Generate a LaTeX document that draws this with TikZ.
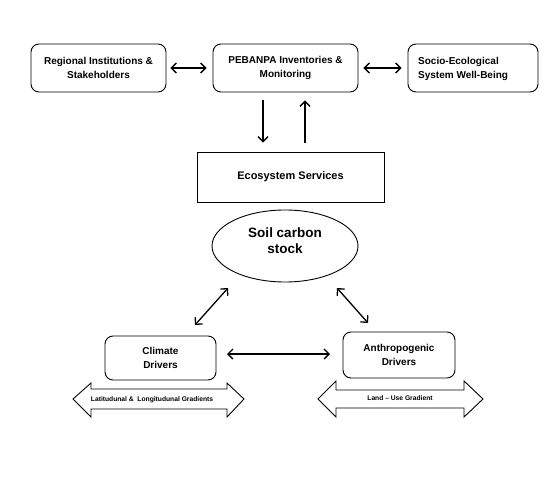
\documentclass[tikz,border=0pt]{standalone}
\usepackage{fontspec}
\setmainfont{Liberation Sans}
\usetikzlibrary{arrows.meta,shapes.geometric}
\begin{document}
\begin{tikzpicture}[x=1pt,y=-1pt,
  rbox/.style={draw,line width=0.9pt,rounded corners=8pt,align=center,font=\fontsize{10}{14}\selectfont\bfseries,inner sep=0pt},
  sbox/.style={draw,line width=0.9pt,align=center,inner sep=0pt},
  conn/.style={line width=1.3pt,{Straight Barb[length=5pt,width=10pt]}-{Straight Barb[length=5pt,width=10pt]}},
  oneway/.style={line width=1.3pt,-{Straight Barb[length=5pt,width=10pt]}},
  fat/.style={draw,line width=0.9pt,line join=miter},
  tiny/.style={font=\fontsize{6.7}{7}\selectfont\bfseries,inner sep=0pt}
]
\useasboundingbox (0,0) rectangle (550,479);
% top row
\node[rbox,minimum width=135pt,minimum height=48pt] (reg) at (98.5,68) {Regional Institutions \&\\Stakeholders};
\node[rbox,minimum width=145pt,minimum height=48pt] (peb) at (285.5,68) {PEBANPA Inventories \&\\Monitoring};
\node[rbox,minimum width=130pt,minimum height=48pt] (soc) at (473,68) {};
\node[font=\fontsize{10}{14}\selectfont\bfseries,align=left,anchor=west,inner sep=0pt] (soctxt) at (418,69) {Socio-Ecological\\System Well-Being};
\draw[conn,shorten <=4pt,shorten >=6pt] (reg.east) -- (peb.west);
\draw[conn,shorten <=5pt,shorten >=6pt] (peb.east) -- (soc.west);
% ecosystem services
\node[sbox,minimum width=187pt,minimum height=50pt,font=\fontsize{11}{13}\selectfont\bfseries] (es) at (290.5,177) {Ecosystem Services};
\draw[oneway,shorten <=8pt,shorten >=9pt] ([xshift=-22.5pt]peb.south) -- ([xshift=-27.5pt]es.north);
\draw[oneway,shorten <=9pt,shorten >=8pt] ([xshift=14.5pt]es.north) -- ([xshift=19.5pt]peb.south);
% soil carbon stock
\node[ellipse,draw,line width=0.9pt,minimum width=146pt,minimum height=72pt,inner sep=0pt] (soil) at (285,246) {};
\node[align=center,inner sep=0pt,font=\fontsize{13.5}{16}\selectfont\bfseries] (soiltxt) at ([yshift=5.5pt]soil.center) {Soil carbon\\stock};
% drivers
\node[rbox,minimum width=111pt,minimum height=44pt] (clim) at (160.5,358) {Climate\\Drivers};
\node[rbox,minimum width=112pt,minimum height=46pt] (anth) at (399,355) {Anthropogenic\\Drivers};
\coordinate (d1) at (228,288);
\coordinate (d2) at (195,325);
\coordinate (d3) at (337,288);
\coordinate (d4) at (368,323);
\draw[conn] (d1) -- (d2);
\draw[conn] (d3) -- (d4);
\coordinate (h1) at (227,354);
\coordinate (h2) at (330,354);
\draw[conn] (h1) -- (h2);
% wide arrows
\draw[fat] (73,399) -- (91,383) -- (91,389) -- (227,389) -- (227,383) -- (244,399) -- (227,417) -- (227,409) -- (91,409) -- (91,417) -- cycle;
\node[tiny] (lat) at (152,399.5) {Latitudunal \&\ \ Longitudunal Gradients};
\draw[fat] (318,399) -- (336,381) -- (336,390) -- (464,390) -- (464,381) -- (483,399) -- (464,417) -- (464,408) -- (336,408) -- (336,417) -- cycle;
\node[tiny] (land) at (400,398.5) {Land – Use Gradient};
\end{tikzpicture}
\end{document}
